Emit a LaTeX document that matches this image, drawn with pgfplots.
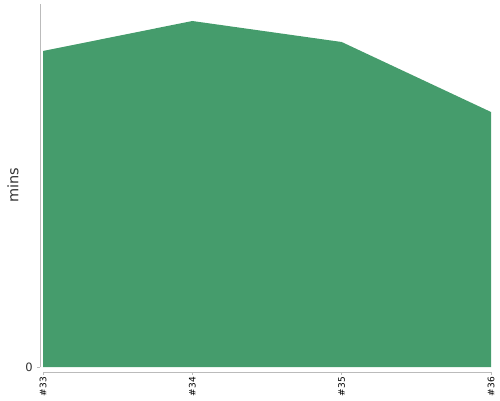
\documentclass[border=0pt]{standalone}
\usepackage{pgfplots}
\pgfplotsset{compat=1.18}
\usepackage{fontspec}
\setmainfont{DejaVu Sans}
\definecolor{areagreen}{HTML}{459C6C}
\definecolor{axgray}{HTML}{BBBBBB}
\definecolor{txtgray}{HTML}{333333}
\begin{document}
\begin{tikzpicture}[x=1pt,y=1pt]
\useasboundingbox (0,0) rectangle (500,400);
\begin{axis}[
  at={(43pt,33pt)}, anchor=south west,
  scale only axis, width=448pt, height=363pt,
  xmin=0, xmax=3, ymin=0, ymax=363,
  axis line style={draw=none},
  xtick=\empty, ytick=\empty,
  clip=false,
]
\addplot[draw=none, fill=areagreen] coordinates {(0,316) (1,346) (2,325) (3,255)} \closedcycle;
% axis lines
\draw[axgray, line width=0.8pt] ([xshift=-3pt]rel axis cs:0,0) -- ([xshift=-3pt]rel axis cs:0,1);
\draw[axgray, line width=0.8pt] ([xshift=-6pt]rel axis cs:0,0) -- ([xshift=-3pt]rel axis cs:0,0);
\draw[axgray, line width=0.8pt] ([yshift=-5pt]rel axis cs:0,0) -- ([yshift=-5pt]rel axis cs:1,0);
\foreach \i in {0,1,2,3} {
  \edef\tmp{\noexpand\draw[axgray, line width=0.8pt] ([yshift=-5pt]axis cs:\i,0) -- ([yshift=-8pt]axis cs:\i,0);}\tmp
}
\node[anchor=east, text=txtgray, font=\fontsize{11.5}{13}\selectfont, inner sep=0pt] at ([xshift=-10pt]rel axis cs:0,0) {0};
\node[rotate=90, anchor=east, text=black, font=\fontsize{9}{10}\selectfont, inner sep=0pt] at ([yshift=-10pt]axis cs:0,0) {\#33};
\node[rotate=90, anchor=east, text=black, font=\fontsize{9}{10}\selectfont, inner sep=0pt] at ([yshift=-10pt]axis cs:1,0) {\#34};
\node[rotate=90, anchor=east, text=black, font=\fontsize{9}{10}\selectfont, inner sep=0pt] at ([yshift=-10pt]axis cs:2,0) {\#35};
\node[rotate=90, anchor=east, text=black, font=\fontsize{9}{10}\selectfont, inner sep=0pt] at ([yshift=-10pt]axis cs:3,0) {\#36};
\node[rotate=90, text=txtgray, font=\fontsize{14.5}{16}\selectfont, inner sep=0pt] at ([xshift=-30pt]rel axis cs:0,0.5) {mins};
\end{axis}
\end{tikzpicture}
\end{document}
